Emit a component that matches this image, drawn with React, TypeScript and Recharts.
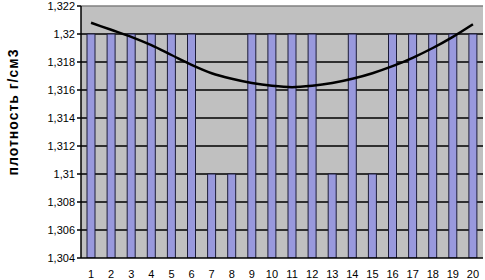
import { Bar, CartesianGrid, ComposedChart, Line, ReferenceLine, XAxis, YAxis } from "recharts";

// sample numbers 1..20
const SAMPLES = [1, 2, 3, 4, 5, 6, 7, 8, 9, 10, 11, 12, 13, 14, 15, 16, 17, 18, 19, 20];

// measured density, g/cm3
const DENSITY = [
  1.32, 1.32, 1.32, 1.32, 1.32, 1.32, 1.31, 1.31, 1.32, 1.32,
  1.32, 1.32, 1.31, 1.32, 1.31, 1.32, 1.32, 1.32, 1.32, 1.32,
];

// trend curve
const TREND = [
  1.3208, 1.3203, 1.3198, 1.3192, 1.3185, 1.3178, 1.3172, 1.3168, 1.3165, 1.3163,
  1.3162, 1.3163, 1.3165, 1.3168, 1.3172, 1.3177, 1.3183, 1.319, 1.3198, 1.3207,
];

const Y_TICKS = [1.304, 1.306, 1.308, 1.31, 1.312, 1.314, 1.316, 1.318, 1.32, 1.322];
const GRID_LINES = [1.306, 1.308, 1.31, 1.312, 1.314, 1.316, 1.318, 1.32];

const data = SAMPLES.map((n, i) => ({ n: String(n), density: DENSITY[i], trend: TREND[i] }));

const FONT = "'Liberation Sans', Arial, sans-serif";
const PLOT_BG = "#c0c0c0";
const BAR_FILL = "#9999dd";
const BAR_STROKE = "#1c1c3a";

const fmt = (v: number) => String(Number(v.toFixed(3))).replace(".", ",");

function AxisTitle({ viewBox }: { viewBox?: { x: number; y: number; width: number; height: number } }) {
  if (!viewBox) return null;
  const x = viewBox.x + 13;
  const y = viewBox.y + viewBox.height / 2 - 20;
  return (
    <text
      x={x}
      y={y}
      transform={`rotate(-90, ${x}, ${y})`}
      textAnchor="middle"
      dominantBaseline="central"
      style={{ fontSize: 14, fontWeight: "bold", fill: "#000", fontFamily: FONT, letterSpacing: 1 }}
    >
      плотность г/см3
    </text>
  );
}

export default function App() {
  return (
    <div style={{ position: "absolute", left: 0, top: 0, fontFamily: FONT }}>
      <ComposedChart
        width={485}
        height={280}
        data={data}
        margin={{ top: 6, right: 2, bottom: 0, left: 0 }}
        barSize={8}
      >
        <CartesianGrid
          fill={PLOT_BG}
          vertical={false}
          horizontalValues={GRID_LINES}
          stroke="#000"
          strokeWidth={1.5}
        />
        <ReferenceLine y={1.322} stroke="#808080" strokeWidth={1.5} />
        <XAxis
          dataKey="n"
          height={22}
          tick={{ fontSize: 11, fill: "#000", fontFamily: FONT }}
          axisLine={{ stroke: "#000", strokeWidth: 1.5 }}
          tickLine={false}
          interval={0}
          tickMargin={6}
        />
        <YAxis
          type="number"
          domain={[1.304, 1.322]}
          ticks={Y_TICKS}
          allowDataOverflow
          width={81}
          tickFormatter={fmt}
          tick={{ fontSize: 11, fill: "#000", fontFamily: FONT }}
          tickSize={4}
          axisLine={{ stroke: "#000", strokeWidth: 1.5 }}
          tickLine={{ stroke: "#000", strokeWidth: 1.5 }}
          label={<AxisTitle />}
        />
        <Bar
          dataKey="density"
          fill={BAR_FILL}
          stroke={BAR_STROKE}
          strokeWidth={1}
          isAnimationActive={false}
        />
        <Line
          dataKey="trend"
          type="monotone"
          stroke="#000"
          strokeWidth={2.5}
          dot={false}
          isAnimationActive={false}
        />
      </ComposedChart>
    </div>
  );
}
